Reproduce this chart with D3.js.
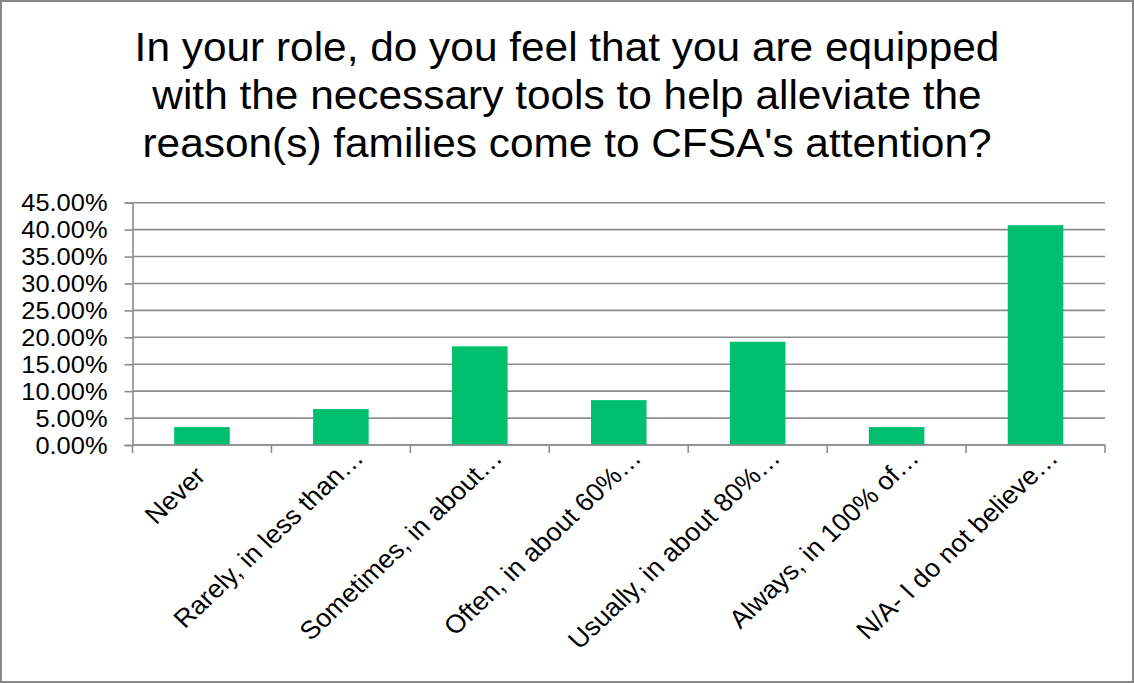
<!DOCTYPE html>
<html>
<head>
<meta charset="utf-8">
<script src="https://cdn.jsdelivr.net/npm/d3@7"></script>
<style>
  html, body { margin: 0; padding: 0; background: #fff; }
  svg { display: block; }
  text { font-family: "Liberation Sans", Arial, sans-serif; fill: #000; }
</style>
</head>
<body>
<svg id="chart" width="1134" height="683"></svg>
<script>
// Survey responses (share of respondents)
const categories = [
  "Never",
  "Rarely, in less than\u2026",
  "Sometimes, in about\u2026",
  "Often, in about 60%\u2026",
  "Usually, in about 80%\u2026",
  "Always, in 100% of\u2026",
  "N/A- I do not believe\u2026"
];
const shares = [0.0333, 0.0667, 0.1833, 0.0833, 0.1917, 0.0333, 0.4083];
const yTicks = [0, 0.05, 0.10, 0.15, 0.20, 0.25, 0.30, 0.35, 0.40, 0.45];
const titleLines = [
  "In your role, do you feel that you are equipped",
  "with the necessary tools to help alleviate the",
  "reason(s) families come to CFSA's attention?"
];

const W = 1134, H = 683;
const plot = { left: 132.5, right: 1105, top: 202.7, bottom: 445 };
const textStretch = 1.06;   // text is drawn slightly wide
const gridColor = "#8c8c8c";
const svg = d3.select("#chart");

// chart frame
svg.append("rect")
  .attr("x", 1).attr("y", 1).attr("width", W - 2).attr("height", H - 2)
  .attr("fill", "#fff").attr("stroke", "#878787").attr("stroke-width", 2);

// title
svg.append("g").selectAll("text").data(titleLines).join("text")
  .attr("transform", (d, i) => `translate(567,${61 + i * 48}) scale(${textStretch},1)`)
  .attr("text-anchor", "middle")
  .attr("font-size", 40)
  .text(d => d);

const x = d3.scaleBand().domain(categories).range([plot.left, plot.right]).paddingInner(0.6).paddingOuter(0.3);
const y = d3.scaleLinear().domain([0, 0.45]).range([plot.bottom, plot.top]);

// horizontal gridlines
svg.append("g").selectAll("line").data(yTicks).join("line")
  .attr("x1", plot.left).attr("x2", plot.right)
  .attr("y1", d => y(d)).attr("y2", d => y(d))
  .attr("stroke", gridColor).attr("stroke-width", 1.6);

// bars
svg.append("g").selectAll("rect").data(categories).join("rect")
  .attr("x", d => x(d))
  .attr("width", x.bandwidth())
  .attr("y", (d, i) => y(shares[i]))
  .attr("height", (d, i) => plot.bottom - y(shares[i]))
  .attr("fill", "#00bf6f");

// y axis: line, ticks and labels
const yAxis = d3.axisLeft(y).tickValues(yTicks).tickSize(8).tickFormat("");
const gy = svg.append("g").attr("transform", `translate(${plot.left},0)`).call(yAxis);
gy.select(".domain").attr("stroke", gridColor).attr("stroke-width", 1.6);
gy.selectAll(".tick line").attr("stroke", gridColor).attr("stroke-width", 1.6);
const pct = d3.format(".2%");
svg.append("g").selectAll("text").data(yTicks).join("text")
  .attr("transform", d => `translate(107.5,${y(d)}) scale(${textStretch},1)`)
  .attr("text-anchor", "end")
  .attr("dy", "0.36em")
  .attr("font-size", 24)
  .text(d => pct(d));

// x axis baseline and category boundary ticks
const boundaries = d3.range(categories.length + 1).map(i => plot.left + i * (plot.right - plot.left) / categories.length);
svg.append("line")
  .attr("x1", plot.left).attr("x2", plot.right)
  .attr("y1", plot.bottom).attr("y2", plot.bottom)
  .attr("stroke", gridColor).attr("stroke-width", 1.6);
svg.append("g").selectAll("line").data(boundaries).join("line")
  .attr("x1", d => d).attr("x2", d => d)
  .attr("y1", plot.bottom).attr("y2", plot.bottom + 8)
  .attr("stroke", gridColor).attr("stroke-width", 1.6);

// rotated category labels; a trailing ellipsis hangs past the anchor point
svg.append("g").selectAll("text").data(categories).join("text")
  .attr("transform", d => `translate(${x(d) + x.bandwidth() / 2 + 5},${plot.bottom + 32.5}) scale(${textStretch},1) rotate(-45)`)
  .attr("text-anchor", "end")
  .attr("dx", d => d.endsWith("\u2026") ? "1em" : 0)
  .attr("font-size", 25.5)
  .text(d => d);
</script>
</body>
</html>
